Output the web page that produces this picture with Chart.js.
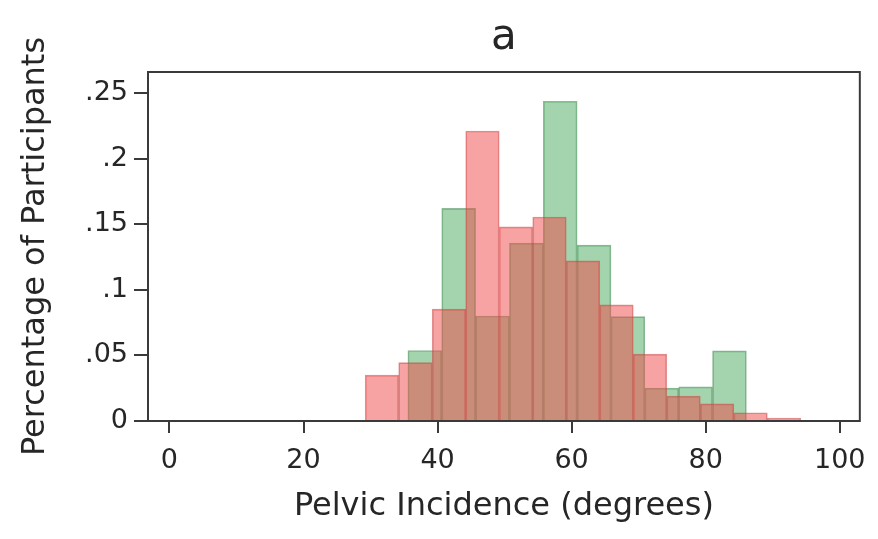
<!DOCTYPE html>
<html>
<head>
<meta charset="utf-8">
<script src="https://cdn.jsdelivr.net/npm/chart.js@4/dist/chart.umd.min.js"></script>
<style>
  html, body { margin: 0; padding: 0; background: #fff; }
  #wrap { width: 878px; height: 539px; }
</style>
</head>
<body>
<div id="wrap"><canvas id="c" width="878" height="539"></canvas></div>
<script>
// Bin centres (degrees) and proportions
const redCenters = [31.7, 36.7, 41.7, 46.7, 51.7, 56.7, 61.7, 66.7, 71.7, 76.7, 81.7, 86.7, 91.7];
const redValues = [0.035, 0.0445, 0.0853, 0.221, 0.148, 0.1555, 0.122, 0.0885, 0.051, 0.019, 0.013, 0.0063, 0.0023];
const greenCenters = [38.1, 43.15, 48.2, 53.25, 58.3, 63.35, 68.4, 73.45, 78.5, 83.55];
const greenValues = [0.0537, 0.162, 0.080, 0.1356, 0.2437, 0.134, 0.0796, 0.025, 0.026, 0.0535];
const xTicks = [0, 20, 40, 60, 80, 100];
const yTicks = [0, 0.05, 0.1, 0.15, 0.2, 0.25];
const yTickLabels = ['0', '.05', '.1', '.15', '.2', '.25'];
const titleText = 'a';
const xTitle = 'Pelvic Incidence (degrees)';
const yTitle = 'Percentage of Participants';

const FONT = 'DejaVu Sans';
const TXT = '#262626';
const AX = '#3a3a3a';

const frame = {
  id: 'frame',
  afterDraw(chart) {
    const {ctx, chartArea: a} = chart;
    ctx.save();
    ctx.strokeStyle = AX;
    ctx.lineWidth = 2;
    ctx.strokeRect(a.left, a.top, a.right - a.left, a.bottom - a.top);
    ctx.restore();
  }
};

new Chart(document.getElementById('c'), {
  type: 'bar',
  data: {
    datasets: [
      {
        label: 'red',
        data: redCenters.map((x, i) => ({x: x, y: redValues[i]})),
        xAxisID: 'x',
        backgroundColor: 'rgba(242,72,72,0.5)',
        borderColor: 'rgba(200,60,60,0.55)',
        borderWidth: 1,
        barPercentage: 1,
        categoryPercentage: 1,
        grouped: false
      },
      {
        label: 'green',
        data: greenCenters.map((x, i) => ({x: x, y: greenValues[i]})),
        xAxisID: 'x2',
        backgroundColor: 'rgba(72,170,92,0.5)',
        borderColor: 'rgba(50,130,70,0.55)',
        borderWidth: 1,
        barPercentage: 1,
        categoryPercentage: 1,
        grouped: false
      }
    ]
  },
  options: {
    responsive: false,
    animation: false,
    devicePixelRatio: 1,
    layout: { padding: { left: 0, right: 16, top: 0, bottom: 0 } },
    plugins: { legend: { display: false }, tooltip: { enabled: false }, title: { display: false } },
    scales: {
      x: {
        type: 'linear',
        position: 'bottom',
        offset: false,
        min: -3.2,
        max: 103,
        afterFit(s) { s.height = 118; },
        afterBuildTicks(s) { s.ticks = xTicks.map(v => ({value: v})); },
        ticks: {
          includeBounds: false,
          padding: 12,
          color: TXT,
          font: { family: FONT, size: 27 },
          callback: v => String(v)
        },
        grid: { display: true, offset: false, drawOnChartArea: false, drawTicks: true, tickLength: 12, color: AX, lineWidth: 2 },
        border: { display: false },
        title: { display: true, text: xTitle, color: TXT, font: { family: FONT, size: 32 }, padding: { top: 0, bottom: 13 } }
      },
      x2: {
        type: 'linear',
        position: 'top',
        offset: false,
        min: -3.2,
        max: 103,
        afterFit(s) { s.height = 72; },
        afterBuildTicks(s) { s.ticks = xTicks.map(v => ({value: v})); },
        ticks: { display: false, includeBounds: false },
        grid: { display: false, offset: false },
        border: { display: false },
        title: { display: true, text: titleText, color: TXT, font: { family: FONT, size: 42 }, padding: { top: 13, bottom: 0 } }
      },
      y: {
        type: 'linear',
        position: 'left',
        min: 0,
        max: 0.266,
        afterFit(s) { s.width = 148; },
        afterBuildTicks(s) { s.ticks = yTicks.map(v => ({value: v})); },
        ticks: {
          includeBounds: false,
          padding: 6,
          color: TXT,
          font: { family: FONT, size: 27 },
          callback: (v) => { const i = yTicks.findIndex(t => Math.abs(t - v) < 1e-9); return i >= 0 ? yTickLabels[i] : ''; }
        },
        grid: { display: true, drawOnChartArea: false, drawTicks: true, tickLength: 14, color: AX, lineWidth: 2 },
        border: { display: false },
        title: { display: true, text: yTitle, color: TXT, font: { family: FONT, size: 32 }, padding: { top: 16, bottom: 0 } }
      }
    }
  },
  plugins: [frame]
});
</script>
</body>
</html>
